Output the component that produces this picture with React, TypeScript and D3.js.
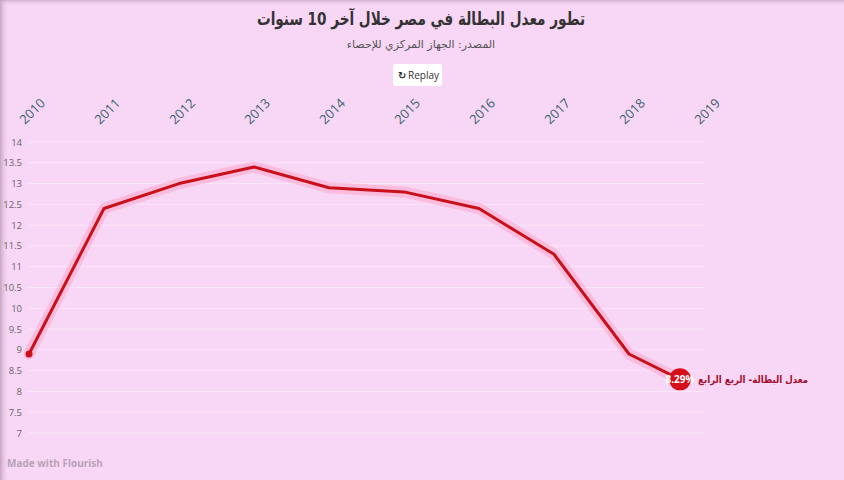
import * as d3 from "d3";
import React from "react";

// معدل البطالة في مصر (٪)
const years = [2010, 2011, 2012, 2013, 2014, 2015, 2016, 2017, 2018, 2018.68];
const rates = [8.9, 12.4, 13.0, 13.4, 12.9, 12.8, 12.4, 11.3, 8.9, 8.29];
const tickYears = [2010, 2011, 2012, 2013, 2014, 2015, 2016, 2017, 2018, 2019];
const yTicks = [7, 7.5, 8, 8.5, 9, 9.5, 10, 10.5, 11, 11.5, 12, 12.5, 13, 13.5, 14];

const title = "تطور معدل البطالة في مصر خلال آخر 10 سنوات";
const subtitle = "المصدر: الجهاز المركزي للإحصاء";
const seriesLabel = "معدل البطالة- الربع الرابع";

const W = 844;
const H = 480;
const arabicFont = "'DejaVu Sans', sans-serif";
const latinFont = "'Open Sans', 'DejaVu Sans', sans-serif";

export default function App() {
  const x = d3.scaleLinear().domain([2010, 2019]).range([29, 704]);
  const y = d3.scaleLinear().domain([7, 14]).range([433, 142]);

  const pts: [number, number][] = years.map((yr, i) => [x(yr), y(rates[i])]);
  const line = d3.line<[number, number]>()(pts) ?? "";
  const last = pts[pts.length - 1];
  const first = pts[0];

  return (
    <svg
      width={W}
      height={H}
      style={{ position: "absolute", left: 0, top: 0, display: "block" }}
    >
      <defs>
        <linearGradient id="leftShade" x1="0" x2="1" y1="0" y2="0">
          <stop offset="0" stopColor="#b898b6" stopOpacity="0.8" />
          <stop offset="1" stopColor="#f8d6f5" stopOpacity="0" />
        </linearGradient>
        <linearGradient id="topShade" x1="0" x2="0" y1="0" y2="1">
          <stop offset="0" stopColor="#b898b6" stopOpacity="0.6" />
          <stop offset="1" stopColor="#f8d6f5" stopOpacity="0" />
        </linearGradient>
      </defs>
      <rect width={W} height={H} fill="#f8d6f5" />
      <rect width={9} height={H} fill="url(#leftShade)" />
      <rect width={W} height={6} fill="url(#topShade)" />

      {/* title */}
      <text
        x={421}
        y={25}
        textAnchor="middle"
        fontFamily={arabicFont}
        fontWeight="bold"
        fontSize={18}
        fill="#333"
        textLength={328}
        lengthAdjust="spacingAndGlyphs"
      >
        {title}
      </text>
      <text
        x={421}
        y={48}
        textAnchor="middle"
        fontFamily={arabicFont}
        fontSize={11}
        fill="#555"
      >
        {subtitle}
      </text>

      {/* replay button */}
      <g transform="translate(393,64)">
        <rect width={49} height={22} rx={2} fill="#fff" />
        <text x={5} y={15} fontFamily={latinFont} fontSize={10} fontWeight="bold" fill="#333">
          ↻
        </text>
        <text x={15} y={15} fontFamily={latinFont} fontSize={10} fill="#333">
          Replay
        </text>
      </g>

      {/* grid + y axis */}
      {yTicks.map((t) => (
        <g key={t}>
          <line
            x1={x(2010)}
            x2={x(2019)}
            y1={y(t)}
            y2={y(t)}
            stroke="#fbe6f9"
            strokeWidth={1}
          />
          <text
            x={22}
            y={y(t) + 3.5}
            textAnchor="end"
            fontFamily={latinFont}
            fontSize={9.5}
            fill="#666"
          >
            {t}
          </text>
        </g>
      ))}

      {/* x axis labels, rotated 45° */}
      {tickYears.map((yr) => (
        <text
          key={yr}
          x={0}
          y={0}
          fontFamily={latinFont}
          fontSize={13}
          fill="#3b6470"
          style={{
            transformBox: "view-box",
            transformOrigin: "0 0",
            transform: `translate(${x(yr) - 4}px, 125px) rotate(-45deg)`,
          }}
        >
          {yr}
        </text>
      ))}

      {/* line with glow */}
      <path
        d={line}
        fill="none"
        stroke="#ff7fa6"
        strokeOpacity={0.3}
        strokeWidth={11}
        strokeLinejoin="round"
        strokeLinecap="round"
      />
      <path
        d={line}
        fill="none"
        stroke="#c9101a"
        strokeWidth={3}
        strokeLinejoin="round"
      />
      <circle cx={first[0]} cy={first[1]} r={3.5} fill="#c9101a" />

      {/* end label */}
      <circle cx={last[0]} cy={last[1]} r={11} fill="#d6101a" />
      <text
        x={last[0]}
        y={last[1] + 3.5}
        textAnchor="middle"
        fontFamily={latinFont}
        fontWeight="bold"
        fontSize={10}
        fill="#fff"
      >
        {`${rates[rates.length - 1]}%`}
      </text>
      <text
        x={808}
        y={last[1] + 3.5}
        textAnchor="end"
        fontFamily={arabicFont}
        fontWeight="bold"
        fontSize={10}
        fill="#a3102e"
        textLength={110}
        lengthAdjust="spacingAndGlyphs"
      >
        {seriesLabel}
      </text>

      <text
        x={7}
        y={467}
        fontFamily={latinFont}
        fontWeight="bold"
        fontSize={10}
        fill="#b9a2b7"
      >
        Made with Flourish
      </text>
    </svg>
  );
}
